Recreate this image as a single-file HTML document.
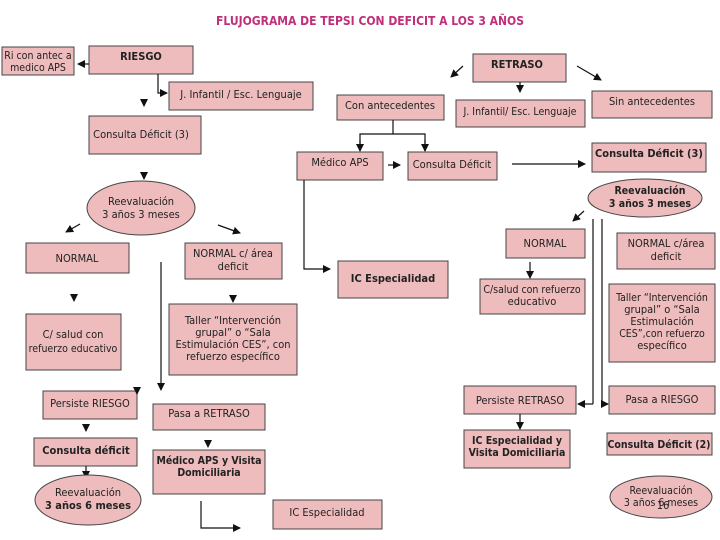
<!DOCTYPE html>
<html><head><meta charset="utf-8"><style>
body{margin:0;background:#fff}
svg{display:block}
text{font-family:"DejaVu Sans Condensed","Liberation Sans",sans-serif;font-size:11px;fill:#222}
.b{font-weight:bold}
.s{font-size:10.5px}
rect,ellipse{fill:#efbcbd;stroke:#444;stroke-width:1}
line,polyline{stroke:#111;stroke-width:1.2;fill:none}
</style></head><body>
<svg width="720" height="540" viewBox="0 0 720 540" xmlns="http://www.w3.org/2000/svg">
<defs><marker id="a" markerWidth="8" markerHeight="8" refX="7" refY="4" orient="auto" markerUnits="userSpaceOnUse"><path d="M0,0 L8,4 L0,8 z" fill="#111"/></marker></defs>
<text x="370" y="25" text-anchor="middle" class="b" style="fill:#c0307a;font-size:12px">FLUJOGRAMA DE TEPSI CON DEFICIT A LOS 3 AÑOS</text>

<!-- left -->
<rect x="2" y="47" width="72" height="28"/><text x="38" y="59" text-anchor="middle" class="s">Ri con antec a</text><text x="38" y="71" text-anchor="middle" class="s">medico APS</text>
<rect x="89" y="46" width="104" height="28"/><text x="141" y="60" text-anchor="middle" class="b">RIESGO</text>
<line x1="89" y1="64" x2="78" y2="64" marker-end="url(#a)"/>
<polyline points="158,74 158,93 167,93" marker-end="url(#a)"/>
<rect x="169" y="82" width="144" height="28"/><text x="241" y="98" text-anchor="middle">J. Infantil / Esc. Lenguaje</text>
<line x1="144" y1="99" x2="144" y2="106" marker-end="url(#a)"/>
<rect x="89" y="116" width="112" height="38"/><text x="141" y="138" text-anchor="middle">Consulta Déficit (3)</text>
<line x1="144" y1="172" x2="144" y2="179" marker-end="url(#a)"/>
<ellipse cx="141" cy="208" rx="54" ry="27"/><text x="141" y="205" text-anchor="middle">Reevaluación</text><text x="141" y="218" text-anchor="middle">3 años 3 meses</text>
<line x1="80" y1="224" x2="66" y2="232" marker-end="url(#a)"/>
<line x1="218" y1="225" x2="240" y2="233" marker-end="url(#a)"/>
<rect x="26" y="243" width="103" height="30"/><text x="77" y="262" text-anchor="middle">NORMAL</text>
<rect x="185" y="243" width="97" height="36"/><text x="233" y="257" text-anchor="middle">NORMAL c/ área</text><text x="233" y="270" text-anchor="middle">deficit</text>
<line x1="161" y1="262" x2="161" y2="390" marker-end="url(#a)"/>
<line x1="74" y1="294" x2="74" y2="301" marker-end="url(#a)"/>
<line x1="233" y1="295" x2="233" y2="302" marker-end="url(#a)"/>
<rect x="26" y="314" width="95" height="56"/><text x="73" y="338" text-anchor="middle">C/ salud con</text><text x="73" y="352" text-anchor="middle" class="s">refuerzo educativo</text>
<rect x="169" y="304" width="128" height="71"/><text x="233" y="324" text-anchor="middle">Taller “Intervención</text><text x="233" y="336" text-anchor="middle">grupal” o “Sala</text><text x="233" y="348" text-anchor="middle">Estimulación CES”, con</text><text x="233" y="360" text-anchor="middle">refuerzo específico</text>
<rect x="43" y="391" width="94" height="28"/><text x="90" y="407" text-anchor="middle">Persiste RIESGO</text>
<line x1="137" y1="387" x2="137" y2="394" marker-end="url(#a)"/>
<rect x="153" y="404" width="112" height="26"/><text x="209" y="417" text-anchor="middle">Pasa a RETRASO</text>
<line x1="86" y1="424" x2="86" y2="431" marker-end="url(#a)"/>
<rect x="34" y="438" width="103" height="28"/><text x="86" y="454" text-anchor="middle" class="b">Consulta déficit</text>
<line x1="86" y1="466" x2="86" y2="478" marker-end="url(#a)"/>
<line x1="208" y1="440" x2="208" y2="447" marker-end="url(#a)"/>
<rect x="153" y="450" width="112" height="44"/><text x="209" y="464" text-anchor="middle" class="b s">Médico APS y Visita</text><text x="209" y="476" text-anchor="middle" class="b s">Domiciliaria</text>
<ellipse cx="88" cy="500" rx="53" ry="25"/><text x="88" y="496" text-anchor="middle">Reevaluación</text><text x="88" y="509" text-anchor="middle" class="b">3 años  6 meses</text>
<polyline points="201,501 201,528 240,528" marker-end="url(#a)"/>
<rect x="273" y="500" width="109" height="29"/><text x="327" y="516" text-anchor="middle">IC Especialidad</text>

<!-- right -->
<rect x="473" y="54" width="93" height="28"/><text x="517" y="68" text-anchor="middle" class="b">RETRASO</text>
<line x1="463" y1="66" x2="451" y2="77" marker-end="url(#a)"/>
<line x1="577" y1="66" x2="601" y2="80" marker-end="url(#a)"/>
<line x1="520" y1="82" x2="520" y2="92" marker-end="url(#a)"/>
<rect x="337" y="95" width="107" height="25"/><text x="390" y="109" text-anchor="middle">Con antecedentes</text>
<rect x="456" y="100" width="129" height="27"/><text x="520" y="115" text-anchor="middle" class="s">J. Infantil/ Esc. Lenguaje</text>
<rect x="592" y="91" width="120" height="27"/><text x="652" y="105" text-anchor="middle">Sin antecedentes</text>
<line x1="393" y1="120" x2="393" y2="134"/>
<polyline points="360,151 360,134 425,134 425,151" />
<line x1="360" y1="140" x2="360" y2="151" marker-end="url(#a)"/>
<line x1="425" y1="140" x2="425" y2="151" marker-end="url(#a)"/>
<rect x="297" y="152" width="86" height="28"/><text x="340" y="166" text-anchor="middle">Médico APS</text>
<line x1="388" y1="165" x2="400" y2="165" marker-end="url(#a)"/>
<rect x="408" y="152" width="89" height="28"/><text x="452" y="168" text-anchor="middle">Consulta Déficit</text>
<line x1="512" y1="164" x2="585" y2="164" marker-end="url(#a)"/>
<rect x="592" y="143" width="114" height="29"/><text x="649" y="157" text-anchor="middle" class="b">Consulta Déficit (3)</text>
<polyline points="304,180 304,269 330,269" marker-end="url(#a)"/>
<rect x="338" y="261" width="110" height="37"/><text x="393" y="282" text-anchor="middle" class="b">IC Especialidad</text>
<ellipse cx="645" cy="198" rx="57" ry="19"/><text x="650" y="194" text-anchor="middle" class="b s">Reevaluación</text><text x="650" y="207" text-anchor="middle" class="b s">3 años 3 meses</text>
<line x1="584" y1="211" x2="573" y2="221" marker-end="url(#a)"/>
<line x1="593" y1="219" x2="593" y2="404"/>
<line x1="602" y1="219" x2="602" y2="404"/>
<line x1="593" y1="404" x2="578" y2="404" marker-end="url(#a)"/>
<line x1="602" y1="404" x2="608" y2="404" marker-end="url(#a)"/>
<rect x="506" y="229" width="79" height="29"/><text x="545" y="247" text-anchor="middle">NORMAL</text>
<rect x="617" y="233" width="98" height="36"/><text x="666" y="247" text-anchor="middle">NORMAL c/área</text><text x="666" y="260" text-anchor="middle">deficit</text>
<line x1="530" y1="262" x2="530" y2="278" marker-end="url(#a)"/>
<rect x="480" y="279" width="105" height="35"/><text x="532" y="293" text-anchor="middle" class="s">C/salud con refuerzo</text><text x="532" y="305" text-anchor="middle">educativo</text>
<rect x="609" y="284" width="106" height="78"/><text x="662" y="301" text-anchor="middle" class="s">Taller “Intervención</text><text x="662" y="313" text-anchor="middle">grupal” o “Sala</text><text x="662" y="325" text-anchor="middle">Estimulación</text><text x="662" y="337" text-anchor="middle" class="s">CES”,con refuerzo</text><text x="662" y="349" text-anchor="middle">específico</text>
<rect x="464" y="386" width="112" height="28"/><text x="520" y="404" text-anchor="middle">Persiste RETRASO</text>
<rect x="609" y="386" width="106" height="28"/><text x="662" y="403" text-anchor="middle">Pasa a RIESGO</text>
<line x1="520" y1="414" x2="520" y2="429" marker-end="url(#a)"/>
<rect x="464" y="430" width="106" height="38"/><text x="517" y="444" text-anchor="middle" class="b s">IC Especialidad y</text><text x="517" y="456" text-anchor="middle" class="b s">Visita Domiciliaria</text>
<rect x="607" y="433" width="105" height="22"/><text x="659" y="448" text-anchor="middle" class="b s">Consulta Déficit (2)</text>
<ellipse cx="661" cy="497" rx="51" ry="21"/><text x="661" y="494" text-anchor="middle" class="s">Reevaluación</text><text x="661" y="506" text-anchor="middle" class="s">3 años 6 meses</text>
<text x="663" y="509" text-anchor="middle" style="font-size:11px">16</text>
</svg>
</body></html>
